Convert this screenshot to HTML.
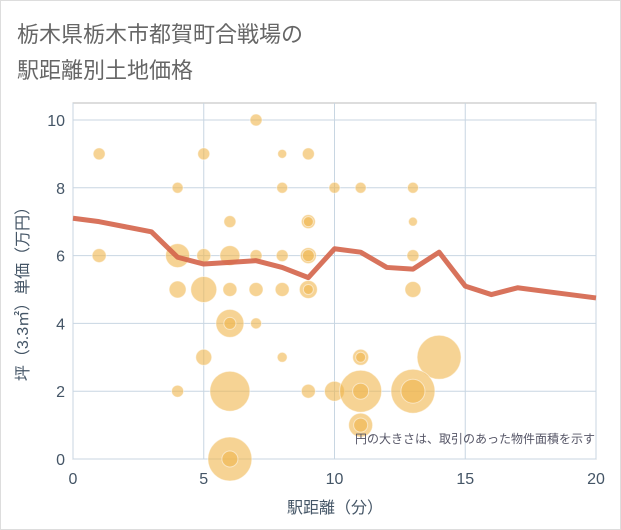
<!DOCTYPE html>
<html><head><meta charset="utf-8"><style>
body{margin:0;background:#fff;font-family:"Liberation Sans","Noto Sans CJK JP",sans-serif}
#wrap{position:relative;width:619px;height:528px;border:1px solid #ddd;background:#fff}
</style></head><body>
<div id="wrap">
<svg id="chart" width="621" height="530" style="position:absolute;left:-1px;top:-1px">
<text x="17" y="42" font-size="22" fill="#666" font-family="Liberation Sans, Noto Sans CJK JP, sans-serif">栃木県栃木市都賀町合戦場の</text>
<text x="17" y="78" font-size="22" fill="#666" font-family="Liberation Sans, Noto Sans CJK JP, sans-serif">駅距離別土地価格</text>
<g id="grid"></g><g id="bubbles"></g><g id="line"></g><g id="axes"></g>
<text x="595" y="443" font-size="12" fill="#556" text-anchor="end" font-family="Liberation Sans, Noto Sans CJK JP, sans-serif">円の大きさは、取引のあった物件面積を示す</text>
<text x="335" y="513" font-size="16" fill="#456" text-anchor="middle" font-family="Liberation Sans, Noto Sans CJK JP, sans-serif">駅距離（分）</text>
<text transform="translate(28,290) rotate(-90)" font-size="16" fill="#456" text-anchor="middle" font-family="Liberation Sans, Noto Sans CJK JP, sans-serif">坪（3.3㎡）単価（万円）</text>
</svg></div>
<script>
const xTicks=[0,5,10,15,20];
const yTicks=[0,2,4,6,8,10];
const lineX=[0,1,2,3,4,5,6,7,8,9,10,11,12,13,14,15,16,17,18,19,20];
const lineY=[7.1,7.0,6.85,6.7,5.95,5.75,5.8,5.85,5.65,5.35,6.2,6.1,5.65,5.6,6.1,5.1,4.85,5.05,4.95,4.85,4.75];
const bubX=[7,1,5,8,9,4,8,10,11,13,6,9,9,13,1,4,5,6,7,8,9,9,13,4,5,6,7,8,9,9,13,6,6,7,5,8,11,11,14,4,6,9,10,11,11,13,13,6,6,11,11];
const bubY=[10,9,9,9,9,8,8,8,8,8,7,7,7,7,6,6,6,6,6,6,6,6,6,5,5,5,5,5,5,5,5,4,4,4,3,3,3,3,3,2,2,2,2,2,2,2,2,0,0,1,1];
const bubR=[6,6,6,4.5,6,5.5,5.5,5.5,5.5,5.5,6,7,5,4.5,7,12,7,10,6,6,8,6,6,8.5,13,7,7,7,9,5,8,14,6,5.5,8,5,8,5,22,6,20,7,10,21,8,22,12,22,8,12,7];
const L=73,R=596,T=103,B=459;
const sx=v=>L+(v-0)/20*(R-L), sy=v=>B-v/10.5*(B-T);
const NS="http://www.w3.org/2000/svg";
function mk(t,a,p){const e=document.createElementNS(NS,t);for(const k in a)e.setAttribute(k,a[k]);p.appendChild(e);return e;}
const grid=document.getElementById('grid'),axes=document.getElementById('axes');
mk('rect',{x:L,y:T,width:R-L,height:B-T,fill:'none',stroke:'#bbb'},grid);
xTicks.forEach(v=>{const l=mk('line',{x1:sx(v),x2:sx(v),y1:T,y2:B,stroke:'#c8d6e2'},grid);


const t=mk('text',{x:sx(v),y:B+25,'text-anchor':'middle','font-size':16,fill:'#456'},axes);t.textContent=v;

});
yTicks.forEach(v=>{const l=mk('line',{x1:L,x2:R,y1:sy(v),y2:sy(v),stroke:'#c8d6e2'},grid);


const t=mk('text',{x:L-8,y:sy(v)+6,'text-anchor':'end','font-size':16,fill:'#456'},axes);t.textContent=v;

});
const bg=document.getElementById('bubbles');
bubX.forEach((x,i)=>{const c=mk('circle',{cx:sx(x),cy:sy(bubY[i]),r:bubR[i],fill:'#f0b54c','fill-opacity':0.6,stroke:'#fff','stroke-opacity':0.5},bg);

});
const p=mk('polyline',{points:lineX.map((x,i)=>sx(x)+','+sy(lineY[i])).join(' '),fill:'none',stroke:'#d4644a','stroke-width':5,'stroke-opacity':0.9,'stroke-linejoin':'round'},document.getElementById('line'));


</script>
</body></html>
